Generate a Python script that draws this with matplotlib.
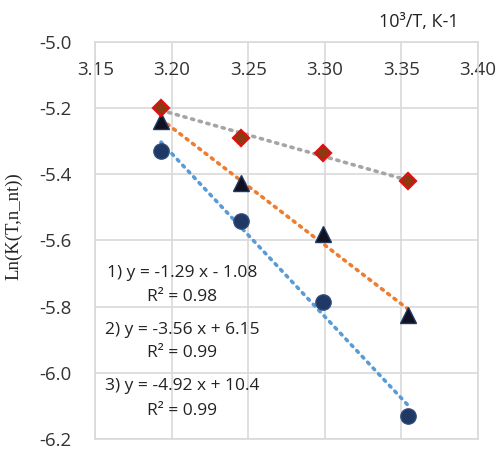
import matplotlib
matplotlib.use("Agg")
import matplotlib.pyplot as plt
import numpy as np

# 10^3/T values and ln K for the three series
x_vals = [3.193, 3.245, 3.299, 3.354]
y_diamond = [-5.20, -5.29, -5.335, -5.42]
y_triangle = [-5.24, -5.425, -5.58, -5.825]
y_circle = [-5.33, -5.54, -5.785, -6.13]

eq_lines = ["1) y = -1.29 x - 1.08", "R\u00b2 = 0.98",
            "2) y = -3.56 x + 6.15", "R\u00b2 = 0.99",
            "3) y = -4.92 x + 10.4", "R\u00b2 = 0.99"]
x_ticks = [3.15, 3.20, 3.25, 3.30, 3.35, 3.40]
y_ticks = [-5.0, -5.2, -5.4, -5.6, -5.8, -6.0, -6.2]

plt.rcParams['font.family'] = ['Open Sans', 'DejaVu Sans']

fig = plt.figure(figsize=(5.01, 4.51), dpi=100)
ax = fig.add_axes([0.19, 0.027, 0.764, 0.88])

grid_c = '#d9d9d9'
ax.set_xlim(3.15, 3.40)
ax.set_ylim(-6.2, -5.0)
ax.set_xticks(x_ticks)
ax.set_xticklabels([f"{v:.2f}" for v in x_ticks])
ax.set_yticks(y_ticks)
ax.set_yticklabels([f"{v:.1f}" for v in y_ticks])
ax.grid(True, color=grid_c, linewidth=1.2)
ax.set_axisbelow(True)
for s in ax.spines.values():
    s.set_color(grid_c)
    s.set_linewidth(1.2)

ax.tick_params(axis='x', length=0, top=False, bottom=False,
               labeltop=True, labelbottom=False, pad=-14, labelsize=13.5,
               colors='#333333')
plt.setp(ax.get_xticklabels(), va='top')
ax.tick_params(axis='y', length=0, pad=17, labelsize=13.5, colors='#333333')

# trend lines
x = np.array(x_vals)
for ys, col in [(y_diamond, '#a5a5a5'), (y_triangle, '#ed7d31'), (y_circle, '#5b9bd5')]:
    k, b = np.polyfit(x, ys, 1)
    ax.plot(x[[0, -1]], k * x[[0, -1]] + b, linestyle=(0, (0.6, 1.6)),
            dash_capstyle='round', color=col, linewidth=2.6, zorder=2)

ax.plot(x_vals, y_circle, 'o', color='#1f3864', markeredgecolor='#2f4a7a',
        markersize=11, linestyle='none', zorder=3)
ax.plot(x_vals, y_triangle, '^', color='#111122', markeredgecolor='#1f3864',
        markersize=11, linestyle='none', zorder=3)
ax.plot(x_vals, y_diamond, 'D', color='#8b3a12', markeredgecolor='#e01010',
        markeredgewidth=1.6, markersize=8, linestyle='none', zorder=4)

# equation labels
text_y = [-5.70, -5.77, -5.87, -5.94, -6.04, -6.115]
for t, ty in zip(eq_lines, text_y):
    ax.text(3.207, ty, t, ha='center', va='center', fontsize=12.5,
            color='#222222', zorder=5)

fig.text(0.836, 0.951, "10\u00b3/T, \u041a-1", ha='center', va='center',
         fontsize=13, color='#222222')
fig.text(0.027, 0.499, "Ln(K(T,n_nt))", rotation=90, ha='center', va='center',
         fontsize=13.5, family=['Liberation Serif'], color='#222222')

fig.savefig("out.png", dpi=100)
